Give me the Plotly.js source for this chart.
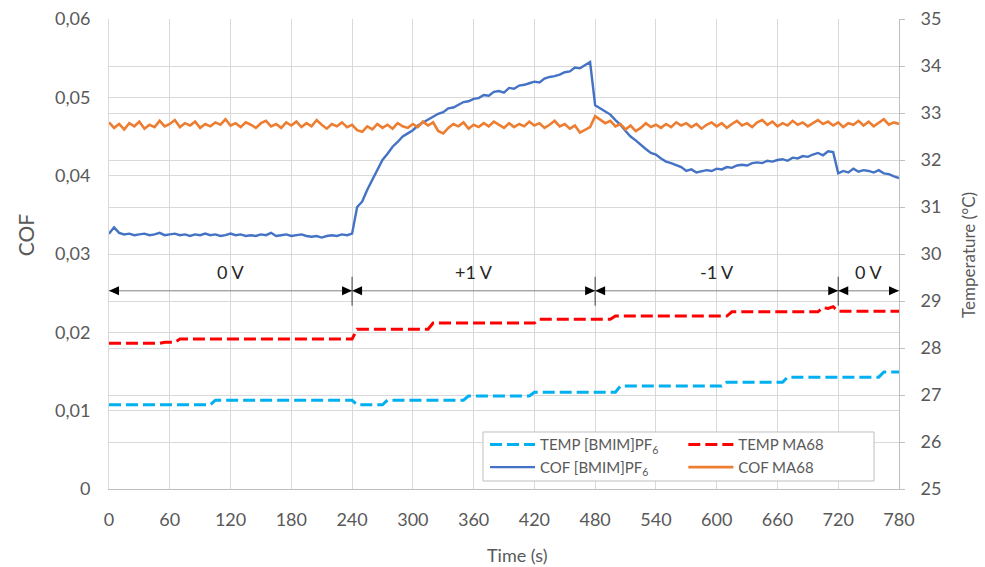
<!DOCTYPE html>
<html><head><meta charset="utf-8">
<script src="https://cdn.plot.ly/plotly-3.0.1.min.js"></script>
<style>html,body{margin:0;padding:0;background:#fff}#chart{width:985px;height:567px}</style>
</head><body><div id="chart"></div>
<script>
// sampling: every 5 s from 0 to 780 s
const timeStart = 0;
const timeStep = 5;

const cofBmim = [
0.0326,0.0334,0.0327,0.0325,0.0326,0.0324,0.0325,0.0326,0.0324,0.0325,
0.0327,0.0324,0.0325,0.0326,0.0324,0.0325,0.0323,0.0325,0.0324,0.0326,
0.0324,0.0325,0.0323,0.0324,0.0326,0.0324,0.0325,0.0323,0.0324,0.0323,
0.0325,0.0324,0.0327,0.0323,0.0324,0.0325,0.0323,0.0324,0.0325,0.0323,
0.0322,0.0323,0.0321,0.0323,0.0324,0.0323,0.0325,0.0324,0.0326,
0.0360,0.0367,0.0382,0.0395,0.0408,0.0420,0.0428,0.0437,0.0443,0.0450,
0.0454,0.0458,0.0464,0.0468,0.0472,0.0476,0.0479,0.0481,0.0486,0.0487,
0.0491,0.0494,0.0495,0.0498,0.0499,0.0503,0.0502,0.0507,0.0508,0.0506,
0.0512,0.0511,0.0515,0.0516,0.0518,0.0520,0.0519,0.0524,0.0526,0.0527,
0.0529,0.0532,0.0533,0.0538,0.0537,0.0541,0.0545,
0.0490,0.0486,0.0483,0.0478,0.0471,0.0465,0.0457,0.0450,0.0445,0.0439,
0.0434,0.0429,0.0427,0.0422,0.0418,0.0416,0.0414,0.0411,0.0406,0.0408,
0.0404,0.0406,0.0407,0.0406,0.0409,0.0408,0.0411,0.0410,0.0413,0.0414,
0.0413,0.0416,0.0417,0.0416,0.0419,0.0418,0.0420,0.0421,0.0419,0.0423,
0.0422,0.0425,0.0424,0.0427,0.0429,0.0426,0.0431,0.0430,
0.0403,0.0406,0.0404,0.0409,0.0405,0.0407,0.0406,0.0404,0.0407,0.0403,
0.0402,0.0399,0.0397
];

const cofMa68 = [
0.0468,0.0461,0.0466,0.0459,0.0467,0.0463,0.0469,0.0460,0.0465,0.0462,
0.0470,0.0463,0.0466,0.0471,0.0462,0.0467,0.0464,0.0469,0.0461,0.0466,
0.0463,0.0468,0.0465,0.0472,0.0464,0.0467,0.0462,0.0468,0.0465,0.0461,
0.0467,0.0470,0.0463,0.0466,0.0461,0.0468,0.0464,0.0469,0.0462,0.0467,
0.0463,0.0471,0.0465,0.0460,0.0466,0.0463,0.0468,0.0462,0.0465,0.0458,
0.0456,0.0463,0.0459,0.0466,0.0461,0.0465,0.0460,0.0467,0.0463,0.0461,
0.0466,0.0462,0.0469,0.0464,0.0468,0.0457,0.0454,0.0461,0.0466,0.0463,
0.0468,0.0460,0.0465,0.0462,0.0467,0.0463,0.0469,0.0465,0.0461,0.0467,
0.0462,0.0466,0.0463,0.0469,0.0464,0.0467,0.0461,0.0465,0.0470,0.0463,
0.0466,0.0460,0.0464,0.0455,0.0458,0.0462,0.0476,0.0472,0.0467,0.0470,
0.0463,0.0466,0.0459,0.0464,0.0457,0.0461,0.0467,0.0462,0.0465,0.0461,
0.0466,0.0462,0.0468,0.0464,0.0467,0.0462,0.0466,0.0460,0.0465,0.0468,
0.0463,0.0467,0.0461,0.0466,0.0470,0.0464,0.0467,0.0462,0.0468,0.0471,
0.0465,0.0469,0.0463,0.0467,0.0464,0.0470,0.0465,0.0468,0.0463,0.0467,
0.0471,0.0466,0.0469,0.0464,0.0468,0.0462,0.0467,0.0465,0.0470,0.0464,
0.0469,0.0463,0.0467,0.0472,0.0465,0.0468,0.0466
];

const tempBmim = [
26.79,26.79,26.79,26.79,26.79,26.79,26.79,26.79,26.79,26.79,26.79,26.79,26.79,26.79,26.79,26.79,26.79,26.79,26.79,26.79,26.79,
26.89,26.89,26.89,26.89,26.89,26.89,26.89,26.89,26.89,26.89,26.89,26.89,26.89,26.89,26.89,26.89,26.89,26.89,26.89,26.89,26.89,26.89,26.89,26.89,26.89,26.89,26.89,26.89,
26.79,26.79,26.79,26.79,26.79,26.79,
26.89,26.89,26.89,26.89,26.89,26.89,26.89,26.89,26.89,26.89,26.89,26.89,26.89,26.89,26.89,26.89,
26.98,26.98,26.98,26.98,26.98,26.98,26.98,26.98,26.98,26.98,26.98,26.98,26.98,
27.06,27.06,27.06,27.06,27.06,27.06,27.06,27.06,27.06,27.06,27.06,27.06,27.06,27.06,27.06,27.06,27.06,
27.19,27.19,27.19,27.19,27.19,27.19,27.19,27.19,27.19,27.19,27.19,27.19,27.19,27.19,27.19,27.19,27.19,27.19,27.19,27.19,27.19,
27.27,27.27,27.27,27.27,27.27,27.27,27.27,27.27,27.27,27.27,27.27,27.27,
27.38,27.38,27.38,27.38,27.38,27.38,27.38,27.38,27.38,27.38,27.38,27.38,27.38,27.38,27.38,27.38,27.38,27.38,27.38,
27.49,27.49,27.49,27.49
];

const tempMa68 = [
28.10,28.10,28.10,28.10,28.10,28.10,28.10,28.10,28.10,28.10,28.10,
28.12,28.12,28.12,
28.19,28.19,28.19,28.19,28.19,28.19,28.19,28.19,28.19,28.19,28.19,28.19,28.19,28.19,28.19,28.19,28.19,28.19,28.19,28.19,28.19,28.19,28.19,28.19,28.19,28.19,28.19,28.19,28.19,28.19,28.19,28.19,28.19,28.19,28.19,
28.40,28.40,28.40,28.40,28.40,28.40,28.40,28.40,28.40,28.40,28.40,28.40,28.40,28.40,28.40,
28.53,28.53,28.53,28.53,28.53,28.53,28.53,28.53,28.53,28.53,28.53,28.53,28.53,28.53,28.53,28.53,28.53,28.53,28.53,28.53,28.53,
28.61,28.61,28.61,28.61,28.61,28.61,28.61,28.61,28.61,28.61,28.61,28.61,28.61,28.61,28.61,
28.68,28.68,28.68,28.68,28.68,28.68,28.68,28.68,28.68,28.68,28.68,28.68,28.68,28.68,28.68,28.68,28.68,28.68,28.68,28.68,28.68,28.68,28.68,
28.77,28.77,28.77,28.77,28.77,28.77,28.77,28.77,28.77,28.77,28.77,28.77,28.77,28.77,28.77,28.77,28.77,28.77,
28.86,28.84,28.88,
28.78,28.78,28.78,28.78,28.78,28.78,28.78,28.78,28.78,28.78,28.78,28.78,28.78
];

const xTickVals = [0,60,120,180,240,300,360,420,480,540,600,660,720,780];
const yTickVals = [0,0.01,0.02,0.03,0.04,0.05,0.06];
const yTickText = ['0','0,01','0,02','0,03','0,04','0,05','0,06'];
const y2TickVals = [25,26,27,28,29,30,31,32,33,34,35];

const segBounds = [0,240,480,720,780];
const segLabels = ['0 V','+1 V','-1 V','0 V'];
const arrowLevel = 0.0253;
const labelLevel = 0.0277;
const markLow = 0.0234;
const markHigh = 0.0271;

const FONT = 'Lato, "Open Sans", sans-serif';
const GRID = '#d9d9d9';
const TXT = '#595959';

const traces = [
  {x0: timeStart, dx: timeStep, y: tempBmim, yaxis: 'y2', type: 'scatter', mode: 'lines',
   name: 'TEMP [BMIM]PF<sub>6</sub>', legend: 'legend',
   line: {color: '#00B0F0', width: 3, dash: '12px,5px'}},
  {x0: timeStart, dx: timeStep, y: cofBmim, yaxis: 'y', type: 'scatter', mode: 'lines',
   name: 'COF [BMIM]PF<sub>6</sub>', legend: 'legend',
   line: {color: '#4472C4', width: 2.4}},
  {x0: timeStart, dx: timeStep, y: tempMa68, yaxis: 'y2', type: 'scatter', mode: 'lines',
   name: 'TEMP MA68', legend: 'legend2',
   line: {color: '#FF0000', width: 3, dash: '12px,5px'}},
  {x0: timeStart, dx: timeStep, y: cofMa68, yaxis: 'y', type: 'scatter', mode: 'lines',
   name: 'COF MA68', legend: 'legend2',
   line: {color: '#ED7D31', width: 2.6}}
];

const annotations = [];
const shapes = [];
const headRight = 'M0,0L-10,4.5L-10,-4.5Z';
const headLeft = 'M0,0L10,4.5L10,-4.5Z';
for (let i = 0; i < segLabels.length; i++) {
  const a = segBounds[i], b = segBounds[i + 1];
  shapes.push({type: 'line', xref: 'x', yref: 'y', x0: a, x1: b, y0: arrowLevel, y1: arrowLevel,
    line: {color: '#808080', width: 1}});
  shapes.push({type: 'path', xref: 'x', yref: 'y', xsizemode: 'pixel', ysizemode: 'pixel',
    xanchor: a, yanchor: arrowLevel, path: headLeft, fillcolor: '#000000', line: {width: 0}});
  shapes.push({type: 'path', xref: 'x', yref: 'y', xsizemode: 'pixel', ysizemode: 'pixel',
    xanchor: b, yanchor: arrowLevel, path: headRight, fillcolor: '#000000', line: {width: 0}});
  annotations.push({
    x: (a + b) / 2, y: labelLevel, xref: 'x', yref: 'y', text: segLabels[i], showarrow: false,
    font: {family: FONT, size: 18, color: '#262626'}
  });
}
for (let i = 1; i < segBounds.length - 1; i++) {
  shapes.push({type: 'line', xref: 'x', yref: 'y', x0: segBounds[i], x1: segBounds[i],
    y0: markLow, y1: markHigh, line: {color: '#404040', width: 1}});
}
// legend frame
shapes.push({type: 'rect', xref: 'paper', yref: 'paper', x0: 0.4734, x1: 0.9684, y0: 0.017, y1: 0.1213,
  line: {color: '#bfbfbf', width: 1}, fillcolor: '#ffffff', layer: 'above'});

// axis titles placed as annotations (offset like the reference)
annotations.push({xref: 'paper', yref: 'paper', x: 0.5165, y: -0.1404, xanchor: 'center', yanchor: 'middle',
  text: 'Time (s)', showarrow: false, font: {family: FONT, size: 18, color: TXT}});
annotations.push({xref: 'paper', yref: 'paper', x: -0.1063, y: 0.540, xanchor: 'center', yanchor: 'middle',
  text: 'COF', showarrow: false, textangle: -90, font: {family: FONT, size: 21, color: TXT}});
annotations.push({xref: 'paper', yref: 'paper', x: 1.0886, y: 0.498, xanchor: 'center', yanchor: 'middle',
  text: 'Temperature (°C)', showarrow: false, textangle: -90, font: {family: FONT, size: 17, color: TXT}});

const legendCommon = {
  bgcolor: 'rgba(0,0,0,0)', borderwidth: 0, xanchor: 'left', yanchor: 'top',
  font: {family: FONT, size: 15, color: TXT}, itemwidth: 45, tracegroupgap: 0
};

const layout = {
  width: 985, height: 567,
  margin: {l: 109, r: 86, t: 19, b: 78, autoexpand: false},
  paper_bgcolor: '#ffffff', plot_bgcolor: '#ffffff',
  font: {family: FONT, color: TXT},
  showlegend: true,
  legend: Object.assign({x: 0.476, y: 0.129}, legendCommon),
  legend2: Object.assign({x: 0.727, y: 0.129}, legendCommon),
  xaxis: {
    range: [0, 780], tickvals: xTickVals, showgrid: true, gridcolor: GRID, gridwidth: 1,
    zeroline: false, showline: true, linecolor: '#bfbfbf', linewidth: 1, ticks: '',
    tickfont: {family: FONT, size: 18, color: TXT}, ticklabelstandoff: 14,
    automargin: false
  },
  yaxis: {
    range: [0, 0.06], tickvals: yTickVals, ticktext: yTickText, showgrid: true, gridcolor: GRID,
    zeroline: false, showline: true, linecolor: '#d9d9d9', ticks: '',
    tickfont: {family: FONT, size: 18, color: TXT}, ticklabelstandoff: 14,
    automargin: false
  },
  yaxis2: {
    range: [25, 35], tickvals: y2TickVals, overlaying: 'y', side: 'right', showgrid: true,
    gridcolor: GRID, zeroline: false, showline: true, linecolor: '#bfbfbf',
    ticks: 'outside', ticklen: 5, tickcolor: '#bfbfbf',
    tickfont: {family: FONT, size: 18, color: TXT}, ticklabelstandoff: 12,
    automargin: false
  },
  annotations: annotations,
  shapes: shapes
};

Plotly.newPlot('chart', traces, layout, {displayModeBar: false, staticPlot: true}).then(function () {
  // drop empty or zero-size helper texts that Plotly leaves in the document
  document.querySelectorAll('text').forEach(function (el) {
    let empty = !el.textContent || !el.textContent.trim();
    let zero = false;
    try { const bb = el.getBBox(); zero = bb.width === 0 || bb.height === 0; } catch (e) { zero = true; }
    if (empty || zero) el.parentNode.removeChild(el);
  });
  document.querySelectorAll('.js-plotly-tester').forEach(function (el) { el.parentNode.removeChild(el); });
});
</script>
</body></html>
